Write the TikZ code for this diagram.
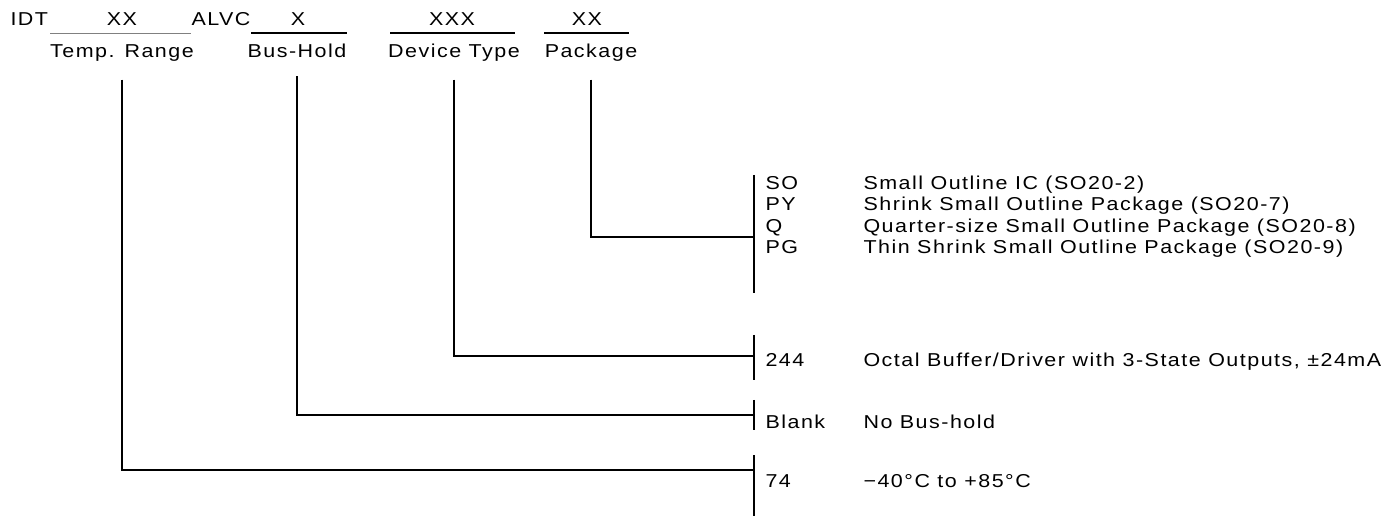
\documentclass[tikz,border=0pt]{standalone}
\usepackage{fontspec}
\setmainfont{Liberation Sans}[FakeStretch=1.15, LetterSpace=8]
\usetikzlibrary{positioning}

\begin{document}
\begin{tikzpicture}[x=.75pt, y=-.75pt, line width=.8pt,
		font=\fontsize{14}{17}\selectfont,
		txt/.style={inner sep=0pt, anchor=base},
		codetxt/.style={inner sep=0pt, anchor=base west},
		field/.style={line width=1.1pt},
		bar/.style={line width=.9pt}]
	\useasboundingbox (0,0) rectangle (1385,516);
	\node[codetxt] (idt) at (10,26) {IDT};
	\draw[gray, line width=.6pt] (50,33) -- (191,33);
	\node[txt] (tempxx) at (122,26) {XX};
	\node[codetxt] (alvc) at (191,26) {ALVC};
	\draw[field] (251,33) -- (347,33);
	\node[txt] (busx) at (298,26) {X};
	\draw[field] (390,33) -- (515,33);
	\node[txt] (devxxx) at (452,26) {XXX};
	\draw[field] (544,33) -- (629,33);
	\node[txt] (pkgxx) at (587,26) {XX};
	\node[txt] (temp) at (122,58) {Temp. Range};
	\node[txt] (bus) at (297,58) {Bus-Hold};
	\node[txt] (dev) at (454,58) {Device Type};
	\node[txt] (pkg) at (591,58) {Package};
	\coordinate (pkgbar) at (754,237);
	\coordinate (devbar) at (754,356);
	\coordinate (busbar) at (754,415);
	\coordinate (tempbar) at (754,470);
	\draw[bar] (754,175) -- (754,293);
	\draw[line width=1.3pt] (754,335) -- (754,380);
	\draw[bar] (754,400) -- (754,430);
	\draw[bar] (754,455) -- (754,516);
	\draw ([yshift=-13pt]temp.south) |- (tempbar);
	\draw[line width=1.2pt] ([yshift=-13pt]bus.south) |- (busbar);
	\draw ([yshift=-13pt]dev.south) |- (devbar);
	\draw ([yshift=-13pt]pkg.south) |- (pkgbar);
	\node[codetxt] (so) at (765,190) {SO};
	\node[codetxt] (py) at (765,211) {PY};
	\node[codetxt] (q) at (765,233) {Q};
	\node[codetxt] (pg) at (765,254) {PG};
	\node[codetxt] (n244) at (765,367) {244};
	\node[codetxt] (blank) at (765,428) {Blank};
	\node[codetxt] (n74) at (765,487) {74};
	\node[codetxt] (sodesc) at (863,190) {Small Outline IC (SO20-2)};
	\node[codetxt] (pydesc) at (863,211) {Shrink Small Outline Package (SO20-7)};
	\node[codetxt] (qdesc) at (863,233) {Quarter-size Small Outline Package (SO20-8)};
	\node[codetxt] (pgdesc) at (863,254) {Thin Shrink Small Outline Package (SO20-9)};
	\node[codetxt] (desc244) at (863,367) {Octal Buffer/Driver with 3-State Outputs, ±24mA};
	\node[codetxt] (blankdesc) at (863,428) {No Bus-hold};
	\node[codetxt] (desc74) at (863,487) {−40°C to +85°C};
\end{tikzpicture}
\end{document}
